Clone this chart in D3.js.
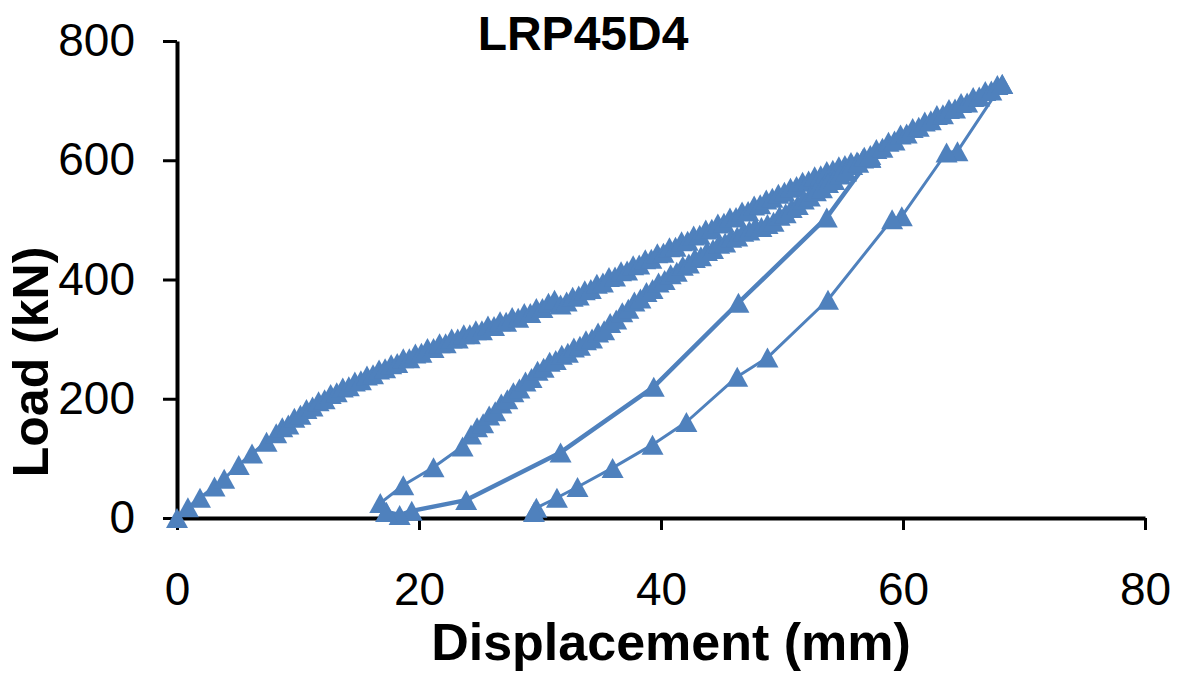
<!DOCTYPE html>
<html lang="en">
<head>
    <meta charset="UTF-8">
    <script src="https://cdn.jsdelivr.net/npm/d3@7"></script>
    <style>
        * { margin: 0; padding: 0; }
        body { background: #ffffff; }
        text { font-family: Arial, "Liberation Sans", sans-serif; }
    </style>
    <title>LRP45D4</title>
</head>
<body>
    <script>
        const width = 1190;
        const height = 677;
        const blue = "#4F81BD";

        const chartTitle = "LRP45D4";
        const xTitle = "Displacement (mm)";
        const yTitle = "Load (kN)";
        const xTicks = [0, 20, 40, 60, 80];
        const yTicks = [0, 200, 400, 600, 800];

        // [displacement mm, load kN], in test order
        const loading1 = [
            [0,0],[0.9,18],[1.9,34],[3.1,53],[3.9,66],[5.1,89],[6.2,108],[7.4,128],[8.2,142],[8.7,152],
            [9.2,157],[9.7,168],[10.2,173],[10.7,183],[11.2,187],[11.7,196],[12.2,199],[12.7,208],[13.2,211],[13.7,219],
            [14.2,221],[14.7,229],[15.2,231],[15.7,239],[16.2,241],[16.7,249],[17.2,251],[17.7,258],[18.2,260],[18.7,268],
            [19.2,268],[19.7,276],[20.2,277],[20.7,285],[21.2,285],[21.7,293],[22.2,293],[22.7,301],[23.2,301],[23.7,308],
            [24.2,308],[24.7,315],[25.2,315],[25.7,323],[26.2,322],[26.7,330],[27.2,329],[27.7,337],[28.2,336],[28.7,344],
            [29.2,344],[29.7,352],[30.2,352],[30.7,361],[31.2,366],[31.7,358],[32.2,363],[32.7,371],[33.2,373],[33.7,382],
            [34.2,384],[34.7,393],[35.2,395],[35.7,404],[36.2,405],[36.7,414],[37.2,415],[37.7,424],[38.2,425],[38.7,434],
            [39.2,435],[39.7,444],[40.2,445],[40.7,454],[41.2,455],[41.7,464],[42.2,465],[42.7,474],[43.2,475],[43.7,484],
            [44.2,485],[44.7,494],[45.2,495],[45.7,504],[46.2,505],[46.7,514],[47.2,515],[47.7,524],[48.2,526],[48.7,534],
            [49.2,537],[49.7,544],[50.2,547],[50.7,554],[51.2,557],[51.7,564],[52.2,566],[52.7,573],[53.2,575],[53.7,582],
            [54.2,584],[54.7,590],[55.2,592],[55.7,597],[56.2,598],[56.7,603],[57.3,604]
        ];
        const unload1 = [
            [57.3,604],[53.7,504],[46.4,361],[39.4,220],[31.7,110],[23.9,30],[19.4,12],[18.4,5],[17.3,10]
        ];
        const reload1 = [
            [17.3,10],[16.8,25],[18.7,55],[21.2,85],[23.6,120],[24.3,140],[24.8,152],[25.3,159],[25.8,172],[26.3,179],
            [26.8,192],[27.3,199],[27.8,211],[28.3,217],[28.8,229],[29.3,235],[29.8,247],[30.3,252],[30.8,262],[31.3,265],
            [31.8,274],[32.3,277],[32.8,286],[33.3,289],[33.8,298],[34.3,301],[34.8,311],[35.3,315],[35.8,327],[36.3,333],
            [36.8,345],[37.3,351],[37.8,363],[38.3,368],[38.8,379],[39.3,384],[39.8,395],[40.3,399],[40.8,409],[41.3,413],
            [41.8,423],[42.3,427],[42.8,436],[43.3,439],[43.8,448],[44.3,451],[44.8,460],[45.3,462],[45.8,470],[46.3,472],
            [46.8,480],[47.3,482],[47.8,489],[48.3,488],[48.8,493],[49.3,497],[49.8,507],[50.3,511],[50.8,520],[51.3,525],
            [51.8,534],[52.3,539],[52.8,548],[53.3,553],[53.8,562],[54.3,567],[54.8,576],[55.3,581],[55.8,592],[56.3,596],
            [56.8,606],[57.3,609],[57.8,619],[58.3,621],[58.8,631],[59.3,633],[59.8,643],[60.3,645],[60.8,654],[61.3,656],
            [61.8,665],[62.3,667],[62.8,676],[63.3,677],[63.8,686],[64.3,687],[64.8,696],[65.3,697],[65.8,706],[66.3,707],
            [66.8,716],[67.3,717],[67.8,726],[68.2,728]
        ];
        const unload2 = [
            [68.2,728],[64.5,615],[63.6,613],[59.9,506],[59.1,501],[53.8,366],[48.8,269],[46.3,237],[42.1,161],[39.3,123],
            [36,84],[33.1,52],[31.4,34],[29.7,17],[29.5,10]
        ];

        const branches = [
            { pts: loading1, lw: 3 },
            { pts: unload1, lw: 4.5 },
            { pts: reload1, lw: 3 },
            { pts: unload2, lw: 3 }
        ];

        const x = d3.scaleLinear().domain([0, 80]).range([177, 1145]);
        const y = d3.scaleLinear().domain([0, 800]).range([518, 41]);

        const svg = d3.select("body").append("svg")
            .attr("width", width)
            .attr("height", height);

        // axes
        const xAxis = svg.append("g")
            .attr("transform", `translate(0,${y(0)})`)
            .call(d3.axisBottom(x).tickValues(xTicks).tickSize(12).tickSizeOuter(0).tickPadding(42));
        const yAxis = svg.append("g")
            .attr("transform", `translate(${x(0)},0)`)
            .call(d3.axisLeft(y).tickValues(yTicks).tickSize(14).tickSizeOuter(0).tickPadding(28));

        [xAxis, yAxis].forEach(g => {
            g.select(".domain").attr("stroke", "#000").attr("stroke-width", 4);
            g.selectAll(".tick line").attr("stroke", "#000").attr("stroke-width", 3);
            g.selectAll(".tick text")
                .attr("fill", "#000")
                .style("font-size", "46px");
        });

        // series
        const line = d3.line().x(d => x(d[0])).y(d => y(d[1]));
        // triangle marker, 22 wide x 20 tall, centred in its box
        const tri = "M0,-10L11,10L-11,10Z";

        branches.forEach(b => {
            svg.append("path")
                .attr("d", line(b.pts))
                .attr("fill", "none")
                .attr("stroke", blue)
                .attr("stroke-width", b.lw)
                .attr("stroke-linejoin", "round");
        });
        branches.forEach(b => {
            svg.append("g").selectAll("path")
                .data(b.pts)
                .join("path")
                .attr("d", tri)
                .attr("transform", d => `translate(${x(d[0])},${y(d[1])})`)
                .attr("fill", blue);
        });

        // titles
        svg.append("text")
            .attr("x", 583).attr("y", 50)
            .attr("text-anchor", "middle")
            .style("font-size", "48px").style("font-weight", "bold")
            .text(chartTitle);
        svg.append("text")
            .attr("x", 671).attr("y", 660)
            .attr("text-anchor", "middle")
            .style("font-size", "52px").style("font-weight", "bold")
            .text(xTitle);
        svg.append("text")
            .attr("transform", "translate(48,362) rotate(-90)")
            .attr("text-anchor", "middle")
            .style("font-size", "50px").style("font-weight", "bold")
            .text(yTitle);
    </script>
</body>
</html>
